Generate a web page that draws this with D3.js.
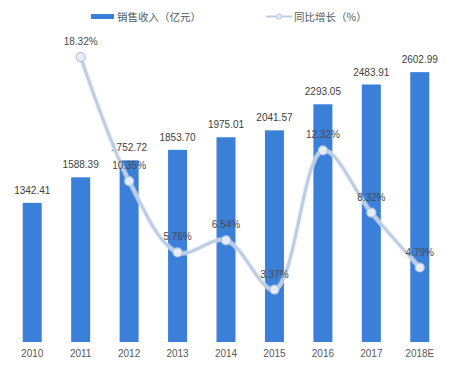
<!DOCTYPE html>
<html>
<head>
<meta charset="utf-8">
<script src="https://cdn.jsdelivr.net/npm/d3@7/dist/d3.min.js"></script>
<style>
  html, body { margin: 0; padding: 0; background: #fff; }
  svg { display: block; }
</style>
</head>
<body>
<svg id="chart" width="450" height="376"></svg>
<script>
const years = ["2010", "2011", "2012", "2013", "2014", "2015", "2016", "2017", "2018E"];
const revenue = [1342.41, 1588.39, 1752.72, 1853.70, 1975.01, 2041.57, 2293.05, 2483.91, 2602.99];
const growthYears = ["2011", "2012", "2013", "2014", "2015", "2016", "2017", "2018E"];
const growth = [18.32, 10.35, 5.76, 6.54, 3.37, 12.32, 8.32, 4.79];
const legendLabels = ["销售收入（亿元）", "同比增长（%）"];

const svg = d3.select("#chart");
const W = 450, H = 376;
const barColor = "#3a7fd8";
const lineColor = "#bdcde6";
const numFont = "'Liberation Sans', Arial, sans-serif";
const cjkFont = "'Noto Sans CJK SC', 'Noto Sans', sans-serif";

const x = d3.scaleBand().domain(years).range([8, 444]).paddingInner(0.608).paddingOuter(0.304);
const yBar = d3.scaleLinear().domain([0, 3000]).range([342, 31]);
const yPct = d3.scaleLinear().domain([0, 20]).range([342, 31]);
const cx = d => x(d) + x.bandwidth() / 2;

// bars
svg.append("g").selectAll("rect").data(years).join("rect")
  .attr("x", d => x(d))
  .attr("y", (d, i) => yBar(revenue[i]))
  .attr("width", x.bandwidth())
  .attr("height", (d, i) => yBar(0) - yBar(revenue[i]))
  .attr("fill", barColor);

// bar value labels
svg.append("g").selectAll("text").data(years).join("text")
  .attr("x", d => cx(d))
  .attr("y", (d, i) => yBar(revenue[i]) - 9)
  .attr("text-anchor", "middle")
  .attr("font-family", numFont)
  .attr("font-size", 10)
  .attr("fill", "#404040")
  .text((d, i) => revenue[i].toFixed(2));

// x axis labels
const xAxis = d3.axisBottom(x).tickSize(0).tickPadding(0);
const gx = svg.append("g").attr("transform", "translate(0,350)").call(xAxis);
gx.select(".domain").remove();
gx.selectAll("text")
  .attr("font-family", numFont)
  .attr("font-size", 10)
  .attr("fill", "#595959")
  .attr("dy", "0.71em");

// growth line
const pts = growthYears.map((d, i) => [cx(d), yPct(growth[i])]);
const line = d3.line().curve(d3.curveCatmullRom.alpha(0.5));
svg.append("path")
  .attr("d", line(pts))
  .attr("fill", "none")
  .attr("stroke", "#e3e8ef")
  .attr("stroke-width", 5)
  .attr("stroke-opacity", 0.6);
svg.append("path")
  .attr("d", line(pts))
  .attr("fill", "none")
  .attr("stroke", lineColor)
  .attr("stroke-width", 3);

svg.append("g").selectAll("circle").data(growthYears).join("circle")
  .attr("cx", d => cx(d))
  .attr("cy", (d, i) => yPct(growth[i]))
  .attr("r", 4.5)
  .attr("fill", "#e6edf7")
  .attr("stroke", "#b3c6e3")
  .attr("stroke-width", 1.2);

// growth labels
svg.append("g").selectAll("text").data(growthYears).join("text")
  .attr("x", d => cx(d))
  .attr("y", (d, i) => yPct(growth[i]) - 12)
  .attr("text-anchor", "middle")
  .attr("font-family", numFont)
  .attr("font-size", 10)
  .attr("fill", "#4a4a4a")
  .text((d, i) => growth[i].toFixed(2) + "%");

// legend
const lg = svg.append("g");
lg.append("rect").attr("x", 91).attr("y", 14).attr("width", 23).attr("height", 5).attr("fill", barColor);
lg.append("text").attr("x", 117).attr("y", 17).attr("dy", "0.35em")
  .attr("font-family", cjkFont).attr("font-size", 10.5).attr("fill", "#505a66")
  .text(legendLabels[0]);
lg.append("line").attr("x1", 266).attr("x2", 292).attr("y1", 16.5).attr("y2", 16.5)
  .attr("stroke", lineColor).attr("stroke-width", 2);
lg.append("circle").attr("cx", 279).attr("cy", 16.5).attr("r", 2.5)
  .attr("fill", "#e6edf7").attr("stroke", "#b3c6e3").attr("stroke-width", 1);
lg.append("text").attr("x", 294).attr("y", 17).attr("dy", "0.35em")
  .attr("font-family", cjkFont).attr("font-size", 10.5).attr("fill", "#505a66")
  .text(legendLabels[1]);
</script>
</body>
</html>
